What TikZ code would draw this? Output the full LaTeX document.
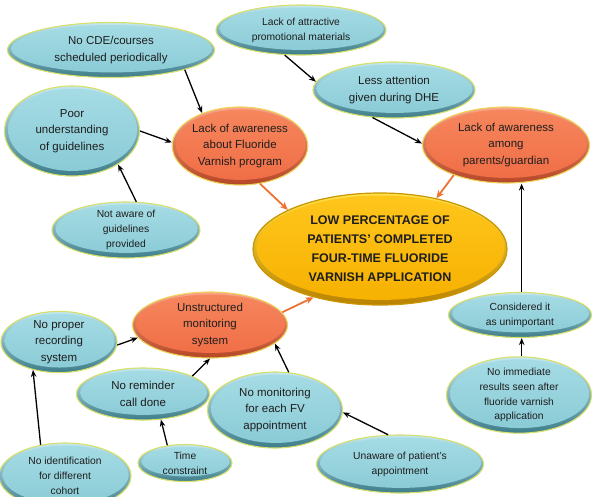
\documentclass[tikz,border=0pt]{standalone}
\usepackage{fontspec}
\setmainfont{Liberation Sans}
\usetikzlibrary{shapes.geometric,arrows.meta,calc}
\definecolor{blueRT}{HTML}{C2E8EE}
\definecolor{blueRB}{HTML}{3E7D8A}
\definecolor{blueIT}{HTML}{A6DCE5}
\definecolor{blueIB}{HTML}{88CAD5}
\definecolor{blueE}{HTML}{D6E06A}
\definecolor{orRT}{HTML}{F9A588}
\definecolor{orRB}{HTML}{B44726}
\definecolor{orIT}{HTML}{F6875E}
\definecolor{orIB}{HTML}{F06C44}
\definecolor{orE}{HTML}{EFD45A}
\definecolor{goRT}{HTML}{FFE24A}
\definecolor{goRB}{HTML}{B98200}
\definecolor{goIT}{HTML}{FFC61C}
\definecolor{goIB}{HTML}{F6B000}
\definecolor{goE}{HTML}{C99500}
\definecolor{arrO}{HTML}{F07232}
\definecolor{txt}{HTML}{1E1E1E}
\tikzset{
  x=1pt, y=-1pt,
  base/.style={ellipse, inner sep=0pt, align=center, line width=1.1pt, text=txt},
  bevel/.style n args={4}{top color=#1, bottom color=#2,
    path picture={\shade[top color=#3, bottom color=#4]
      let \p1=(path picture bounding box.north east), \p2=(path picture bounding box.south west) in
      ([yshift=1.3pt,xshift=0.6pt]path picture bounding box.center) ellipse [x radius={(\x1-\x2)/2-3pt}, y radius={(\y1-\y2)/2-3.8pt}];}},
  bluenode/.style={base, draw=blueE, bevel={blueRT}{blueRB}{blueIT}{blueIB},
    font=\fontsize{11.5}{16.5}\selectfont},
  bluesmall/.style={bluenode, font=\fontsize{10.3}{14.8}\selectfont},
  orangenode/.style={base, draw=orE, bevel={orRT}{orRB}{orIT}{orIB},
    font=\fontsize{11.5}{16.5}\selectfont},
  goldnode/.style={base, draw=goE, line width=1.2pt, bevel={goRT}{goRB}{goIT}{goIB},
    font=\fontsize{12.5}{19}\selectfont\bfseries},
  blk/.style={draw=black, line width=1.3pt, -{Stealth[length=7pt,width=5.5pt]}},
  org/.style={draw=arrO, line width=1.8pt, -{Stealth[length=8pt,width=7pt]}},
}
\begin{document}
\begin{tikzpicture}
\useasboundingbox (0,0) rectangle (593,496);

\node[bluenode, minimum width=207pt, minimum height=55pt] (cde) at (111,50) {No CDE/courses\\scheduled periodically};
\node[bluesmall, minimum width=170pt, minimum height=50pt] (promo) at (301,30) {Lack of attractive\\promotional materials};
\node[bluenode, minimum width=162pt, minimum height=56pt] (less) at (394,90) {Less attention\\given during DHE};
\node[bluenode, minimum width=135pt, minimum height=90pt] (poor) at (72,131) {Poor\\understanding\\of guidelines};
\node[orangenode, minimum width=135pt, minimum height=78pt] (fv) at (240,146) {Lack of awareness\\about Fluoride\\Varnish program};
\node[orangenode, minimum width=167pt, minimum height=76pt] (par) at (506,145) {Lack of awareness\\among\\parents/guardian};
\node[bluesmall, minimum width=148pt, minimum height=56pt] (notaware) at (126,230) {Not aware of\\guidelines\\provided};
\node[goldnode, minimum width=254pt, minimum height=112pt] (low) at (380,249) {LOW PERCENTAGE OF\\PATIENTS' COMPLETED\\FOUR-TIME FLUORIDE\\VARNISH APPLICATION};
\node[orangenode, minimum width=155pt, minimum height=66pt] (unstr) at (210,325) {Unstructured\\monitoring\\system};
\node[bluenode, minimum width=116pt, minimum height=55pt] (noprop) at (59,342) {No proper\\recording\\system};
\node[bluenode, minimum width=133pt, minimum height=52pt] (remind) at (143,394) {No reminder\\call done};
\node[bluenode, minimum width=135pt, minimum height=76pt] (nomon) at (275,410) {No monitoring\\for each FV\\appointment};
\node[bluesmall, minimum width=94pt, minimum height=37pt] (time) at (185,463) {Time\\constraint};
\node[bluesmall, minimum width=132pt, minimum height=66pt] (noid) at (65,476) {No identification\\for different\\cohort};
\node[bluesmall, minimum width=167pt, minimum height=58pt] (unaware) at (400,464) {Unaware of patient's\\appointment};
\node[bluesmall, minimum width=143pt, minimum height=45pt] (consid) at (520,315) {Considered it\\as unimportant};
\node[bluesmall, minimum width=145pt, minimum height=66pt] (noimm) at (519,395) {No immediate\\results seen after\\fluoride varnish\\application};

\draw[blk] (cde.-15) -- (fv.139);
\draw[blk] (poor.0) -- (fv.177);
\draw[blk] (notaware.70) -- (poor.-36);
\draw[blk] (promo.-123) -- (less.174);
\draw[blk] (less.-128) -- (par.179);
\draw[org] (fv.-62) -- (low.157);
\draw[org] (par.-150) -- (low.42);
\draw[org] (unstr.10) -- (low.-144);
\draw[blk] (consid.86) -- (consid.86 |- par.south);
\draw[blk] (noimm.86) -- (noimm.86 |- consid.south);
\draw[blk] (noprop.-3) -- (unstr.-170);
\draw[blk] (remind.20) -- (unstr.south);
\draw[blk] (nomon.70) -- (unstr.-16);
\draw[blk] (time.135) -- (remind.-55);
\draw[blk] (noid.128) -- (noprop.-133);
\draw[blk] (unaware.112) -- (nomon.-2);
\end{tikzpicture}
\end{document}
